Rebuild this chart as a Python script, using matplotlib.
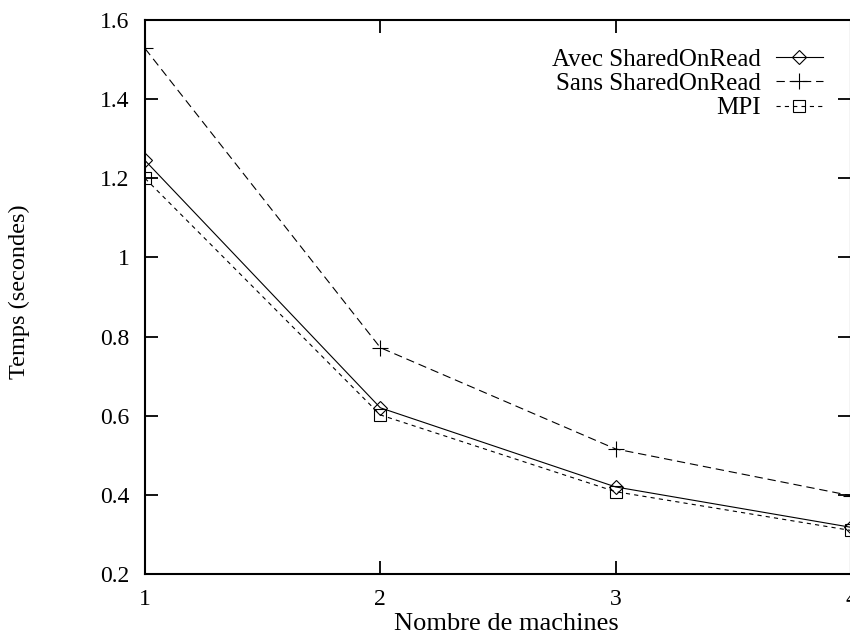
import matplotlib
matplotlib.use("Agg")
import matplotlib.pyplot as plt

machines = [1, 2, 3, 4]
avec_shared = [1.245, 0.620, 0.420, 0.318]
sans_shared = [1.528, 0.772, 0.516, 0.398]
mpi = [1.200, 0.602, 0.408, 0.310]

labels = ["Avec SharedOnRead", "Sans SharedOnRead", "MPI"]
yticks = [0.2, 0.4, 0.6, 0.8, 1.0, 1.2, 1.4, 1.6]
ytick_labels = ["0.2", "0.4", "0.6", "0.8", "1", "1.2", "1.4", "1.6"]

plt.rcParams["font.family"] = ["Liberation Serif", "DejaVu Serif"]
plt.rcParams["lines.scale_dashes"] = False

W, H = 850, 635
fig = plt.figure(figsize=(W / 100, H / 100), dpi=100)
# plot frame in pixels: left 145, right 851 (cut off), top 20, bottom 574
ax = fig.add_axes([145 / W, 1 - 574 / H, (851 - 145) / W, (574 - 20) / H])

ax.plot(machines, avec_shared, color="black", lw=0.8, ls="-",
        marker="D", ms=7.5, mfc="none", mec="black", mew=0.8, label=labels[0])
ax.plot(machines, sans_shared, color="black", lw=0.8, dashes=(6, 3.5),
        marker="+", ms=11, mec="black", mew=0.8, label=labels[1])
ax.plot(machines, mpi, color="black", lw=0.8, dashes=(3, 3),
        marker="s", ms=9, mfc="none", mec="black", mew=0.8, label=labels[2])

ax.set_xlim(1, 4)
ax.set_ylim(0.2, 1.6)
ax.set_xticks(machines)
ax.set_yticks(yticks)
ax.set_yticklabels(ytick_labels)
ax.tick_params(direction="in", length=9.5, width=1.3, labelsize=17,
               top=True, right=True, pad=11)
for s in ax.spines.values():
    s.set_linewidth(1.5)

ax.set_ylabel("Temps (secondes)", fontsize=17.5)
ax.yaxis.set_label_coords(30 / W, 1 - 292 / H, transform=fig.transFigure)
fig.text(506 / W, 1 - 624 / H, "Nombre de machines", fontsize=19,
         ha="center", va="center")

ax.legend(loc="upper right", bbox_to_anchor=(823 / W, 1 - 48 / H),
          bbox_transform=fig.transFigure, frameon=False, markerfirst=False,
          fontsize=18, borderpad=0, labelspacing=0.08, handlelength=1.9,
          handletextpad=0.6, borderaxespad=0)

fig.savefig("out.png", dpi=100)
